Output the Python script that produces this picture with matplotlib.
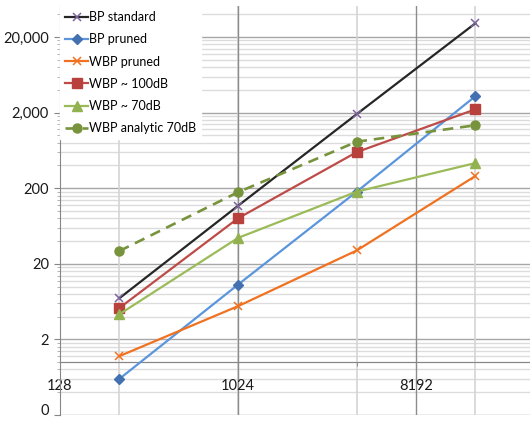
import numpy as np
import matplotlib.pyplot as plt
from matplotlib.ticker import FixedLocator, NullFormatter

plt.rcParams['font.family'] = ['Lato', 'DejaVu Sans']

# sizes (x values) and measured counts
n_points = [256, 1024, 4096, 16384]
bp_standard = [7.0, 117, 1910, 30400]
bp_pruned = [0.6, 10.6, 180, 3300]
wbp_pruned = [1.2, 5.5, 30, 290]
wbp_100db = [5.2, 80, 600, 2210]
wbp_70db = [4.3, 44, 180, 430]
wbp_analytic = [29.5, 177, 824, 1360]

x_ticks = [128, 1024, 8192]
y_ticks = [0.2, 2, 20, 200, 2000, 20000]
y_labels = ['0', '2', '20', '200', '2,000', '20,000']

fig = plt.figure(figsize=(5.3, 4.21), dpi=100)
ax = fig.add_axes([0.1132, 0.0143, 0.8868, 0.9714])
ax.set_xscale('log', base=2)
ax.set_yscale('log')
ax.set_xlim(128, 31000)
ax.set_ylim(0.2, 51400)

# gridlines (drawn by hand to mimic the excel look)
minor_y = [0.2 * k * 10 ** d for d in range(6) for k in range(2, 10)]
for v in minor_y:
    ax.axhline(v, color='#dcdcdc', lw=1.0, zorder=0)
for v in y_ticks:
    ax.axhline(v, color='#a6a6a6', lw=1.0, zorder=0)
for v in n_points:
    ax.axvline(v, color='#d4d4d4', lw=1.2, zorder=0)
for v in x_ticks[1:]:
    ax.axvline(v, color='#8c8c8c', lw=1.0, zorder=0)

lw = 1.6
ax.plot(n_points, bp_standard, color='#262626', lw=lw, marker='x', ms=6,
        mec='#7e649e', mew=1.1, label='BP standard', zorder=3)
ax.plot(n_points, bp_pruned, color='#5b95dc', lw=lw, marker='D', ms=5,
        mfc='#4270b0', mec='#4270b0', label='BP pruned', zorder=3)
ax.plot(n_points, wbp_pruned, color='#f07220', lw=lw, marker='x', ms=6,
        mec='#f07220', mew=1.1, label='WBP pruned', zorder=3)
ax.plot(n_points, wbp_100db, color='#be4b48', lw=lw, marker='s', ms=7,
        mfc='#b8403d', mec='#b8403d', label='WBP ~ 100dB', zorder=3)
ax.plot(n_points, wbp_70db, color='#9bbb59', lw=lw, marker='^', ms=7.5,
        mfc='#92b250', mec='#92b250', label='WBP ~ 70dB', zorder=3)
ax.plot(n_points, wbp_analytic, color='#77933c', lw=lw + 0.3, ls=(0, (4, 2.6)),
        marker='o', ms=6.5, mfc='#77933c', mec='#77933c',
        label='WBP analytic 70dB', zorder=3)

# axes styling
for s in ['top', 'right']:
    ax.spines[s].set_visible(False)
ax.spines['left'].set_color('#868686')
ax.spines['bottom'].set_color('#868686')
ax.spines['bottom'].set_position(('data', 1))

ax.xaxis.set_major_locator(FixedLocator(x_ticks))
ax.xaxis.set_minor_locator(FixedLocator([4096]))
ax.xaxis.set_minor_formatter(NullFormatter())
ax.set_xticklabels([str(v) for v in x_ticks])
ax.yaxis.set_major_locator(FixedLocator(y_ticks))
ax.yaxis.set_minor_locator(FixedLocator(minor_y))
ax.yaxis.set_minor_formatter(NullFormatter())
ax.set_yticklabels(y_labels)

ax.tick_params(axis='x', which='major', length=0, pad=12, labelsize=10.5,
               colors='#868686', labelcolor='#1a1a1a')
ax.tick_params(axis='x', which='minor', length=3, colors='#868686')
ax.tick_params(axis='y', which='major', length=4, pad=4, labelsize=10.5,
               colors='#868686', labelcolor='#1a1a1a')
ax.tick_params(axis='y', which='minor', length=2, colors='#a6a6a6')
# keep the "0" label inside the figure
ax.get_yticklabels()[0].set_verticalalignment('baseline')

leg = ax.legend(loc='upper left', bbox_to_anchor=(0.0, 1.0), frameon=True,
                fontsize=9, handlelength=1.85, handletextpad=0.05,
                labelspacing=0.82, borderpad=0.4, borderaxespad=0.0,
                fancybox=False)
leg.get_frame().set_facecolor('white')
leg.get_frame().set_edgecolor('white')
leg.get_frame().set_alpha(1)
leg.set_zorder(5)

fig.savefig('out.png', dpi=100)
